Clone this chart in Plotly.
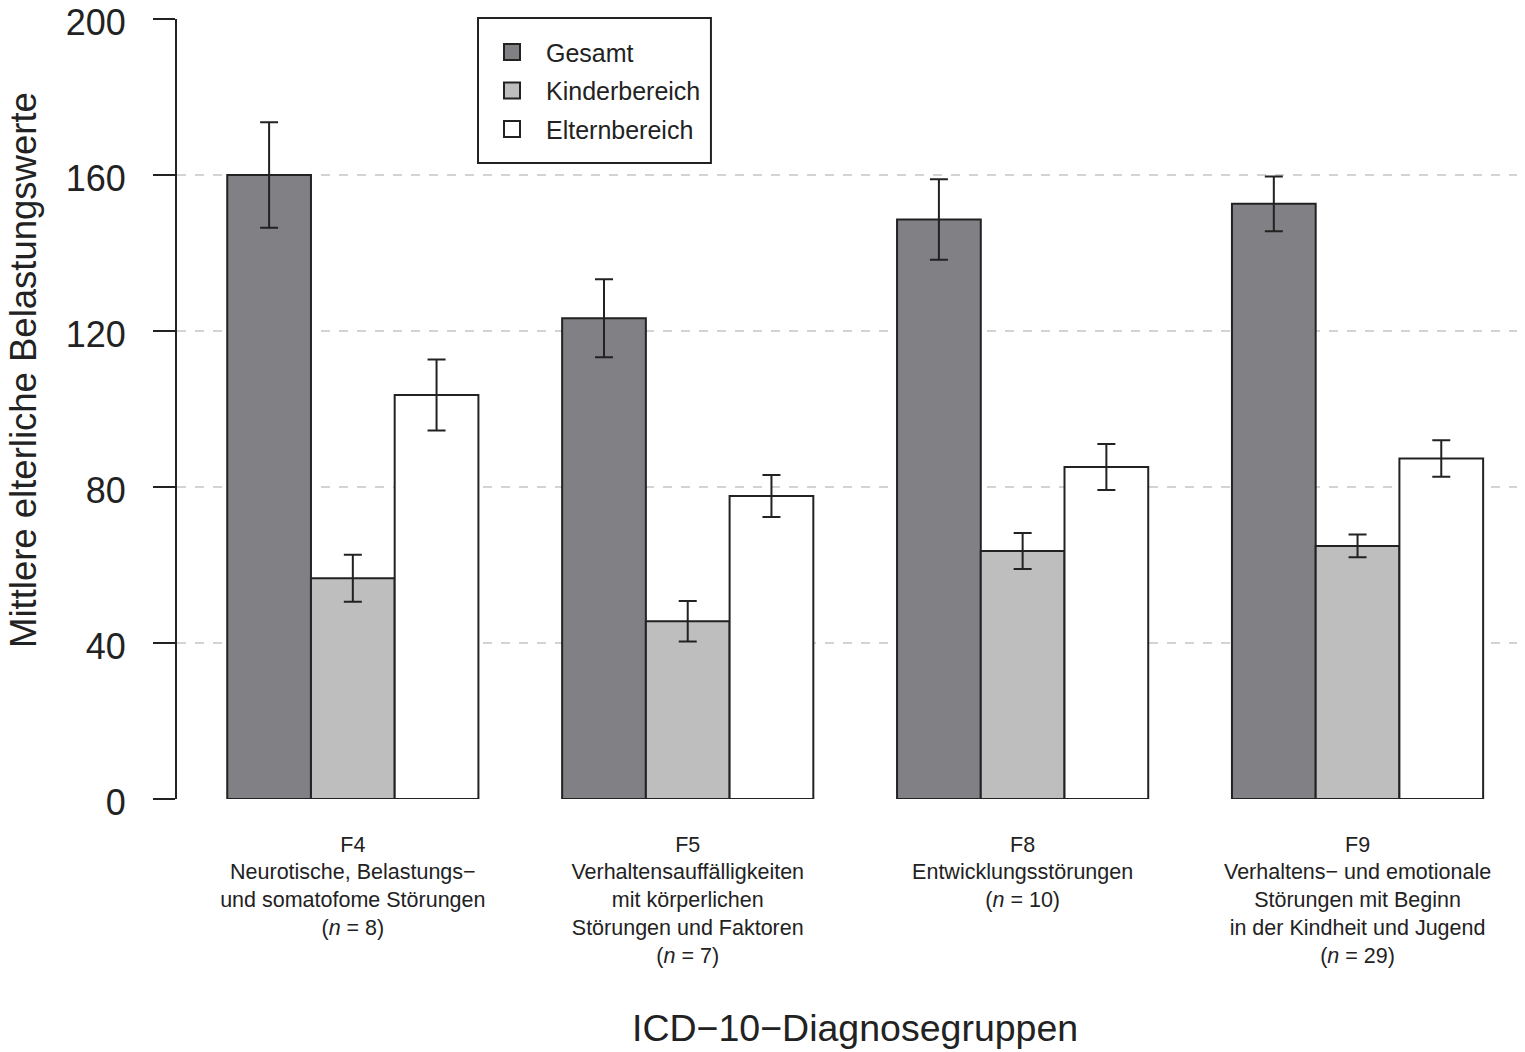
import plotly.graph_objects as go

groups = ["F4", "F5", "F8", "F9"]
group_labels = [
    "F4<br>Neurotische, Belastungs−<br>und somatofome Störungen<br>(<i>n</i> = 8)",
    "F5<br>Verhaltensauffälligkeiten<br>mit körperlichen<br>Störungen und Faktoren<br>(<i>n</i> = 7)",
    "F8<br>Entwicklungsstörungen<br>(<i>n</i> = 10)<br> <br> ",
    "F9<br>Verhaltens− und emotionale<br>Störungen mit Beginn<br>in der Kindheit und Jugend<br>(<i>n</i> = 29)",
]

gesamt = [160.0, 123.3, 148.6, 152.6]
gesamt_err = [13.5, 10.0, 10.3, 7.0]
kinder = [56.6, 45.6, 63.6, 64.9]
kinder_err = [6.0, 5.2, 4.6, 2.9]
eltern = [103.6, 77.7, 85.1, 87.3]
eltern_err = [9.1, 5.4, 5.9, 4.7]

series = [
    ("Gesamt", gesamt, gesamt_err, "#818185"),
    ("Kinderbereich", kinder, kinder_err, "#bebebe"),
    ("Elternbereich", eltern, eltern_err, "#ffffff"),
]

FONT = "Liberation Sans, Arial, sans-serif"
INK = "#222222"

fig = go.Figure()
for name, vals, err, col in series:
    fig.add_trace(go.Bar(
        name=name, x=groups, y=vals, showlegend=False,
        marker=dict(color=col, line=dict(color=INK, width=2)),
        error_y=dict(type="data", array=err, visible=True,
                     color=INK, thickness=2, width=9),
    ))
# legend entries with larger square keys
for name, vals, err, col in series:
    fig.add_trace(go.Scatter(
        name=name, x=[None], y=[None], mode="markers", legendgroup=name,
        marker=dict(symbol="square", size=16, color=col,
                    line=dict(color=INK, width=2)),
    ))

# page has an 8px body margin, so the figure is a bit smaller
fig.update_layout(
    width=1517, height=1044,
    margin=dict(l=169, r=0, t=11, b=253),
    plot_bgcolor="white", paper_bgcolor="white",
    barmode="group", bargap=0.25, bargroupgap=0,
    font=dict(family=FONT, color=INK),
    showlegend=True,
    legend=dict(
        x=0.2233, y=0.987, xanchor="left", yanchor="top",
        bgcolor="rgba(0,0,0,0)", borderwidth=0,
        font=dict(size=25, color=INK),
        itemwidth=58, tracegroupgap=3,
    ),
    xaxis=dict(
        range=[-0.525, 3.5], automargin=False,
        tickmode="array", tickvals=groups, ticktext=group_labels,
        tickfont=dict(size=21.5), ticks="", showline=False,
        showgrid=False, zeroline=False, ticklabelstandoff=30,
    ),
    yaxis=dict(
        range=[0, 200], tickvals=[0, 40, 80, 120, 160, 200],
        automargin=False,
        tickfont=dict(size=36), ticks="outside", ticklen=22,
        tickwidth=2, tickcolor=INK, ticklabeloverflow="allow",
        ticklabelshift=3,
        showline=True, linecolor=INK, linewidth=2,
        showgrid=True, gridcolor="#d3d3d3", gridwidth=2, griddash="dash",
        zeroline=False, ticklabelstandoff=20,
    ),
    shapes=[
        dict(type="rect", xref="paper", yref="paper",
             x0=0.2233, x1=0.3961, y0=0.8154, y1=1.0013,
             line=dict(color=INK, width=2), fillcolor="rgba(0,0,0,0)"),
    ],
    annotations=[
        dict(text="Mittlere elterliche Belastungswerte", textangle=-90,
             xref="paper", yref="paper", x=-0.1135, y=0.55,
             xanchor="center", yanchor="middle", showarrow=False,
             font=dict(size=36.5, color=INK)),
        dict(text="ICD−10−Diagnosegruppen",
             xref="paper", yref="paper", x=0.503, y=-0.2936,
             xanchor="center", yanchor="middle", showarrow=False,
             font=dict(size=37.5, color=INK)),
    ],
)

fig.write_html("out.html")
